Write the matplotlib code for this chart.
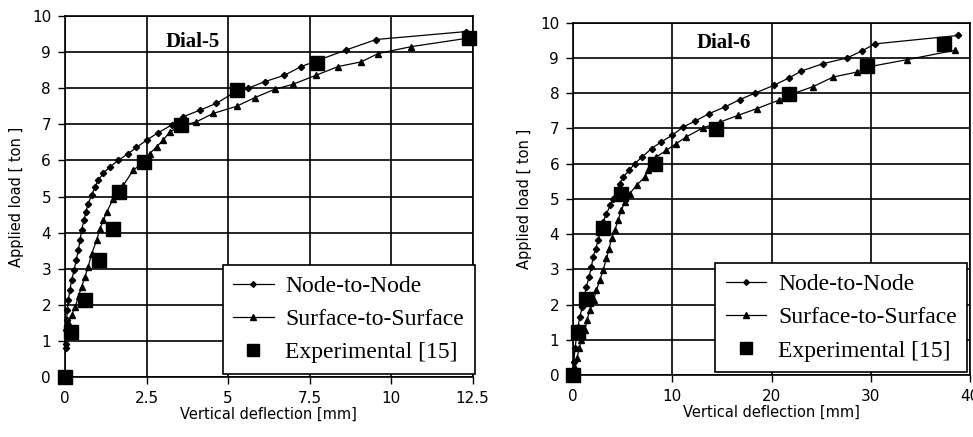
import matplotlib.pyplot as plt

# Dial-5 data (deflection mm, load ton)
d5_node_x = [0.02, 0.02, 0.02, 0.05, 0.07, 0.10, 0.15, 0.20, 0.28, 0.34, 0.41, 0.46, 0.51, 0.58, 0.64,
             0.71, 0.82, 0.92, 1.02, 1.17, 1.38, 1.63, 1.94, 2.19, 2.50, 2.86, 3.27, 3.62, 4.13, 4.64,
             5.15, 5.61, 6.12, 6.73, 7.24, 8.62, 9.54, 12.3]
d5_node_y = [0.79, 0.92, 1.29, 1.57, 1.85, 2.13, 2.40, 2.68, 2.96, 3.23, 3.51, 3.79, 4.07, 4.34, 4.57,
             4.80, 5.04, 5.27, 5.45, 5.64, 5.82, 6.00, 6.19, 6.36, 6.56, 6.77, 6.98, 7.21, 7.39, 7.58,
             7.86, 8.00, 8.18, 8.36, 8.60, 9.06, 9.35, 9.57]
d5_surf_x = [0.10, 0.20, 0.31, 0.42, 0.51, 0.61, 0.71, 0.82, 0.97, 1.07, 1.18, 1.28, 1.48, 1.62, 1.79,
             2.09, 2.35, 2.60, 2.81, 3.01, 3.21, 3.55, 4.03, 4.54, 5.26, 5.82, 6.43, 6.99, 7.70, 8.37,
             9.08, 9.60, 10.6, 12.3]
d5_surf_y = [1.52, 1.71, 1.94, 2.25, 2.50, 2.77, 3.05, 3.42, 3.79, 4.11, 4.35, 4.57, 4.94, 5.12, 5.31,
             5.73, 5.91, 6.19, 6.38, 6.56, 6.79, 6.95, 7.07, 7.30, 7.50, 7.74, 7.97, 8.11, 8.36, 8.60,
             8.73, 8.96, 9.15, 9.38]
d5_exp_x = [0.0, 0.18, 0.61, 1.04, 1.46, 1.65, 2.42, 3.57, 5.26, 7.72, 12.38]
d5_exp_y = [0.0, 1.25, 2.13, 3.23, 4.11, 5.13, 5.96, 6.98, 7.95, 8.69, 9.38]

# Dial-6 data
d6_node_x = [0.0, 0.07, 0.20, 0.34, 0.50, 0.67, 0.94, 1.11, 1.34, 1.61, 1.85, 2.02, 2.29, 2.52, 2.80,
             3.03, 3.36, 3.76, 4.00, 4.40, 4.70, 5.04, 5.65, 6.20, 6.96, 7.90, 8.90, 10.0, 11.1, 12.3,
             13.7, 15.3, 16.8, 18.3, 20.2, 21.8, 23.0, 25.2, 27.6, 29.1, 30.4, 38.8]
d6_node_y = [0.05, 0.38, 0.76, 1.09, 1.37, 1.65, 1.94, 2.22, 2.50, 2.79, 3.07, 3.36, 3.59, 3.83, 4.11,
             4.35, 4.58, 4.82, 5.00, 5.25, 5.43, 5.62, 5.81, 6.00, 6.19, 6.43, 6.62, 6.81, 7.04, 7.21,
             7.42, 7.61, 7.82, 8.00, 8.22, 8.44, 8.63, 8.84, 9.00, 9.20, 9.40, 9.64]
d6_surf_x = [0.17, 0.40, 0.60, 0.84, 1.18, 1.41, 1.68, 2.08, 2.35, 2.69, 3.03, 3.36, 3.63, 3.87, 4.20,
             4.54, 4.87, 5.20, 5.70, 6.40, 7.23, 7.56, 8.40, 9.40, 10.4, 11.4, 13.1, 14.8, 16.6, 18.5,
             20.7, 22.2, 24.2, 26.2, 28.6, 29.6, 33.6, 38.5]
d6_surf_y = [0.19, 0.47, 0.76, 0.99, 1.28, 1.56, 1.84, 2.13, 2.41, 2.69, 2.98, 3.31, 3.59, 3.88, 4.11,
             4.40, 4.68, 4.91, 5.15, 5.39, 5.62, 5.81, 6.19, 6.38, 6.57, 6.76, 7.02, 7.18, 7.37, 7.56,
             7.80, 7.99, 8.19, 8.46, 8.60, 8.74, 8.95, 9.22]
d6_exp_x = [0.0, 0.5, 1.34, 3.03, 4.87, 8.3, 14.35, 21.8, 29.65, 37.4]
d6_exp_y = [0.0, 1.23, 2.17, 4.16, 5.15, 6.0, 6.99, 7.99, 8.76, 9.39]

fig = plt.figure(figsize=(9.73, 4.37), dpi=100)
ax1 = fig.add_axes([0.0668, 0.1373, 0.419, 0.826])
ax2 = fig.add_axes([0.589, 0.1419, 0.408, 0.806])

panels = [
    (ax1, d5_node_x, d5_node_y, d5_surf_x, d5_surf_y, d5_exp_x, d5_exp_y,
     'Dial-5', (0.314, 0.928), 12.5, [0, 2.5, 5, 7.5, 10, 12.5], ['0', '2.5', '5', '7.5', '10', '12.5'], 1.005),
    (ax2, d6_node_x, d6_node_y, d6_surf_x, d6_surf_y, d6_exp_x, d6_exp_y,
     'Dial-6', (0.38, 0.943), 40, [0, 10, 20, 30, 40], ['0', '10', '20', '30', '40'], 0.993),
]

for ax, nx, ny, sx, sy, ex, ey, title, tpos, xmax, xt, xtl, lx in panels:
    ax.plot(nx, ny, color='black', lw=0.9, marker='D', ms=3.2, label='Node-to-Node', zorder=3, clip_on=False)
    ax.plot(sx, sy, color='black', lw=0.9, marker='^', ms=4.5, label='Surface-to-Surface', zorder=3, clip_on=False)
    ax.plot(ex, ey, ls='none', color='black', marker='s', ms=10, label='Experimental [15]', zorder=4, clip_on=False)
    ax.set_xlim(0, xmax)
    ax.set_ylim(0, 10)
    ax.set_xticks(xt)
    ax.set_xticklabels(xtl)
    ax.set_yticks(range(0, 11))
    ax.grid(True, color='black', lw=1.2)
    ax.set_axisbelow(True)
    for sp in ax.spines.values():
        sp.set_linewidth(1.2)
    ax.tick_params(direction='out', length=5, width=1.0, pad=5, labelsize=11, colors='black')
    ax.set_xlabel('Vertical deflection [mm]', fontsize=10.5, labelpad=1)
    ax.set_ylabel('Applied load [ ton ]', fontsize=10.5, labelpad=6)
    ax.text(tpos[0], tpos[1], title, transform=ax.transAxes, ha='center', va='center',
            fontsize=15, fontweight='bold', family='Liberation Serif', zorder=5)
    leg = ax.legend(loc='lower right', bbox_to_anchor=(lx, 0.008), fancybox=False, framealpha=1,
                    edgecolor='black', prop={'family': 'Liberation Serif', 'size': 17},
                    handlelength=1.7, handletextpad=0.5, labelspacing=0.5, borderpad=0.45,
                    borderaxespad=0, markerscale=0.9)
    leg.get_frame().set_linewidth(1.2)
    leg.set_zorder(6)

fig.savefig('out.png', dpi=100)
